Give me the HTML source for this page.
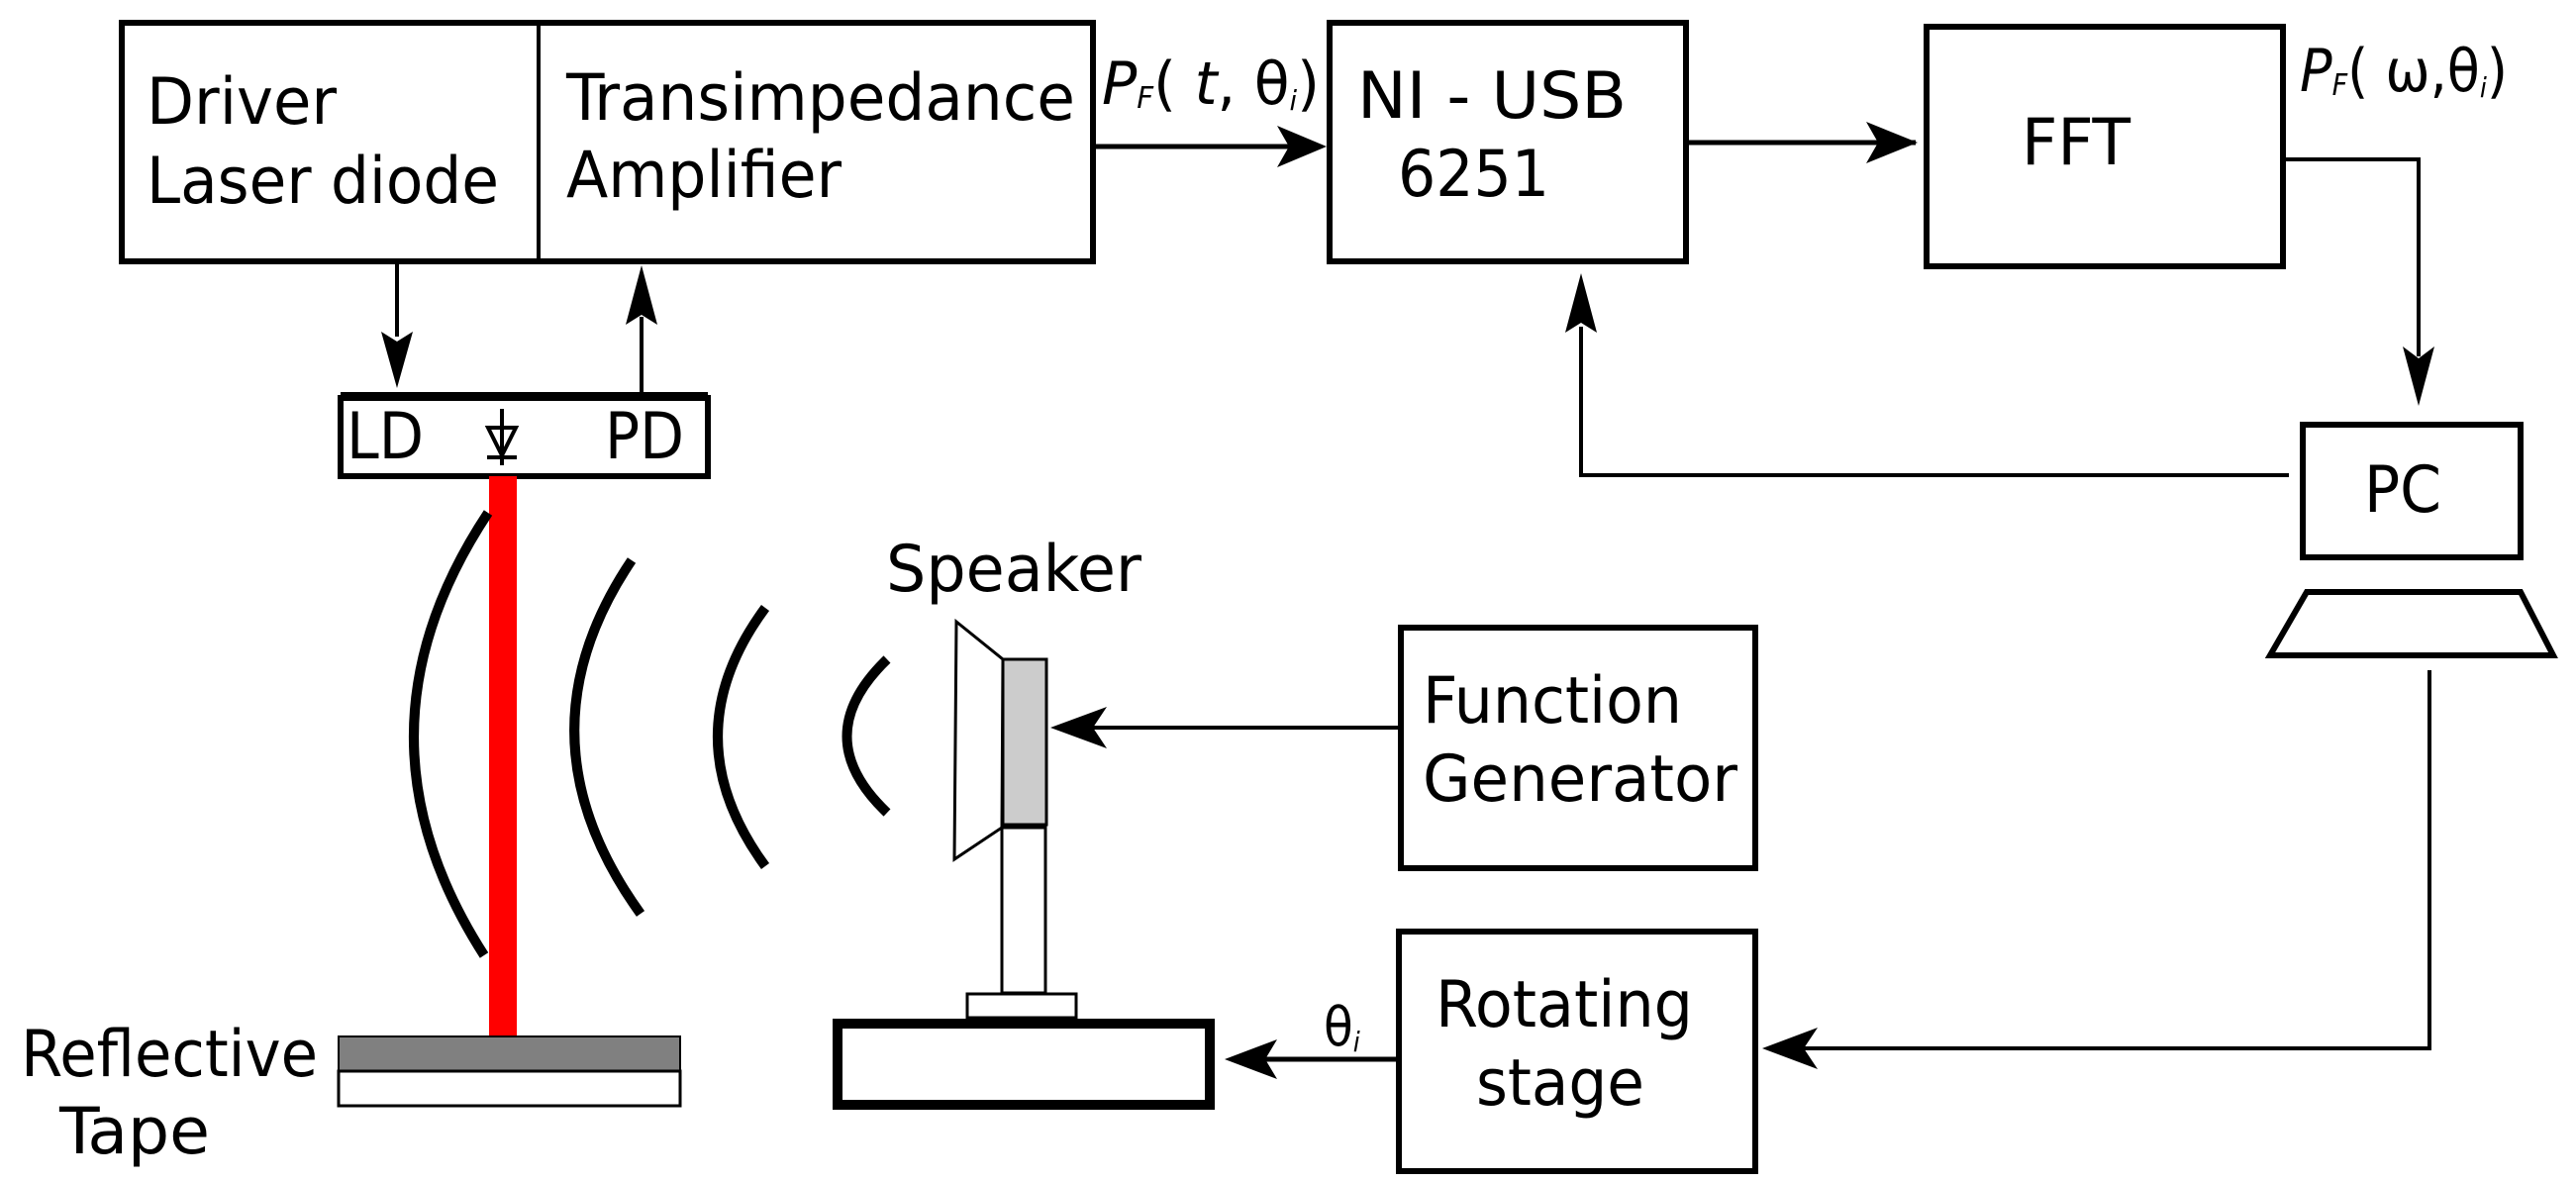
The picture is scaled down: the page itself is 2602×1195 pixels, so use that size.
<!DOCTYPE html>
<html><head><meta charset="utf-8"><style>
html,body{margin:0;padding:0;background:#fff;}
svg{display:block;}
text{font-family:"DejaVu Sans Condensed","DejaVu Sans","Liberation Sans",sans-serif;fill:#000;}
</style></head><body>
<svg width="2602" height="1195" viewBox="0 0 2602 1195" xmlns="http://www.w3.org/2000/svg">
<g fill="none" stroke="#000" stroke-width="6">
<rect x="123" y="23" width="981" height="241"/>
<line x1="544" y1="23" x2="544" y2="264" stroke-width="4"/>
<rect x="1343" y="23" width="360" height="241"/>
<rect x="1946" y="27" width="360" height="242"/>
<rect x="2326" y="429" width="220" height="134"/>
<polygon points="2330,598 2546,598 2579,662 2293,662"/>
<rect x="1415" y="634" width="358" height="243"/>
<rect x="1413" y="941" width="360" height="242"/>
<rect x="344" y="402" width="371" height="79"/>
<line x1="344" y1="400" x2="715" y2="400" stroke-width="8"/>
</g>
<g fill="none" stroke="#000" stroke-width="4">
<line x1="1104" y1="148" x2="1333" y2="148" stroke-width="5"/>
<line x1="1703" y1="144" x2="1935" y2="144" stroke-width="5"/>
<polyline points="2306,161 2443,161 2443,360"/>
<polyline points="2312,480 1597,480 1597,330"/>
<polyline points="2454,677 2454,1059 1800,1059"/>
<line x1="1415" y1="735" x2="1090" y2="735"/>
<line x1="1413" y1="1070" x2="1260" y2="1070" stroke-width="5"/>
<line x1="401" y1="264" x2="401" y2="340"/>
<line x1="648" y1="400" x2="648" y2="320"/>
</g>
<g fill="#000">
<path d="M1340,148 L1290,127 L1302,148 L1290,169 Z"/>
<path d="M1937,144 L1885,123 L1897,144 L1885,165 Z"/>
<path d="M401,392 L385,335 L401,345 L417,335 Z"/>
<path d="M2443,410 L2427,350 L2443,362 L2459,350 Z"/>
<path d="M648,268 L632,328 L648,318 L664,328 Z"/>
<path d="M1597,276 L1581,336 L1597,326 L1613,336 Z"/>
<path d="M1780,1059 L1836,1038 L1822,1059 L1836,1080 Z"/>
<path d="M1061,735 L1118,714 L1104,735 L1118,756 Z"/>
<path d="M1237,1070 L1290,1050 L1278,1070 L1290,1090 Z"/>
</g>
<g stroke="#000" stroke-width="4" fill="none">
<line x1="507" y1="413" x2="507" y2="470"/>
<polygon points="493,432 521,432 507,460"/>
<line x1="492" y1="462" x2="522" y2="462"/>
</g>
<rect x="494" y="481" width="28" height="566" fill="#ff0000"/>
<g fill="none" stroke="#000" stroke-width="10">
<path d="M493,518 Q345,741 489,965"/>
<path d="M638,566 Q518,744 647,923"/>
<path d="M773,614 Q677,744 773,875"/>
<path d="M896,666 Q815,744 896,821"/>
</g>
<g stroke="#000" stroke-width="3" fill="none">
<polygon points="966,628 1013,666 1012,836 964,868" fill="#fff"/>
<rect x="1013" y="666" width="44" height="167" fill="#cccccc"/>
<rect x="1012" y="836" width="44" height="167" fill="#fff"/>
<rect x="977" y="1004" width="110" height="24" fill="#fff"/>
<rect x="846" y="1034" width="376" height="82" stroke-width="10" fill="#fff"/>
</g>
<rect x="342" y="1047" width="345" height="35" fill="#808080" stroke="#000" stroke-width="2"/>
<rect x="342" y="1082" width="345" height="35" fill="#fff" stroke="#000" stroke-width="3"/>
<g font-size="65">
<text x="148" y="125" textLength="192" lengthAdjust="spacingAndGlyphs">Driver</text>
<text x="148" y="205" textLength="356" lengthAdjust="spacingAndGlyphs">Laser diode</text>
<text x="572" y="121" textLength="514" lengthAdjust="spacingAndGlyphs">Transimpedance</text>
<text x="572" y="199" textLength="278" lengthAdjust="spacingAndGlyphs">Amplifier</text>
<text x="1371" y="119" textLength="272" lengthAdjust="spacingAndGlyphs">NI - USB</text>
<text x="1412" y="198" textLength="153" lengthAdjust="spacingAndGlyphs">6251</text>
<text x="2042" y="166" textLength="110" lengthAdjust="spacingAndGlyphs">FFT</text>
<text x="2388" y="517" textLength="78" lengthAdjust="spacingAndGlyphs">PC</text>
<text x="895" y="597" textLength="258" lengthAdjust="spacingAndGlyphs">Speaker</text>
<text x="1437" y="730" textLength="262" lengthAdjust="spacingAndGlyphs">Function</text>
<text x="1437" y="809" textLength="318" lengthAdjust="spacingAndGlyphs">Generator</text>
<text x="1450" y="1037" textLength="260" lengthAdjust="spacingAndGlyphs">Rotating</text>
<text x="1491" y="1116" textLength="170" lengthAdjust="spacingAndGlyphs">stage</text>
<text x="21" y="1087" textLength="300" lengthAdjust="spacingAndGlyphs">Reflective</text>
<text x="60" y="1165" textLength="152" lengthAdjust="spacingAndGlyphs">Tape</text>
<text x="350" y="463" textLength="78" lengthAdjust="spacingAndGlyphs">LD</text>
<text x="611" y="463" textLength="80" lengthAdjust="spacingAndGlyphs">PD</text>
</g>
<text x="1113" y="105" font-size="60" textLength="220" lengthAdjust="spacingAndGlyphs"><tspan font-style="italic">P</tspan><tspan font-size="30" font-style="italic" dy="4">F</tspan><tspan dy="-4">( </tspan><tspan font-style="italic">t</tspan><tspan>, θ</tspan><tspan font-size="28" font-style="italic" dy="6">i</tspan><tspan dy="-6">)</tspan></text>
<text x="2323" y="92" font-size="60" textLength="210" lengthAdjust="spacingAndGlyphs"><tspan font-style="italic">P</tspan><tspan font-size="30" font-style="italic" dy="4">F</tspan><tspan dy="-4">( ω,θ</tspan><tspan font-size="28" font-style="italic" dy="6">i</tspan><tspan dy="-6">)</tspan></text>
<text x="1337" y="1056" font-size="54">θ<tspan font-size="28" font-style="italic" dy="6">i</tspan></text>
</svg>
</body></html>
